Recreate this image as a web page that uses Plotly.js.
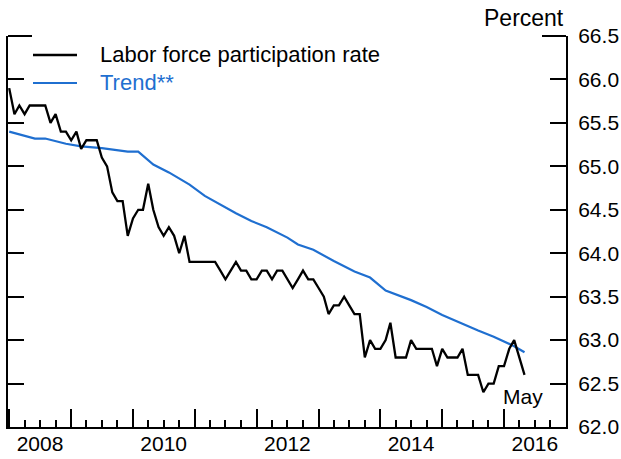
<!DOCTYPE html>
<html>
<head>
<meta charset="utf-8">
<script src="https://cdn.plot.ly/plotly-3.0.1.min.js"></script>
<style>
html,body{margin:0;padding:0;background:#fff;}
#chart{width:621px;height:459px;}
</style>
</head>
<body>
<div id="chart"></div>
<script>
const lfprDates = [
 '2008-01','2008-02','2008-03','2008-04','2008-05','2008-06','2008-07','2008-08','2008-09','2008-10','2008-11','2008-12',
 '2009-01','2009-02','2009-03','2009-04','2009-05','2009-06','2009-07','2009-08','2009-09','2009-10','2009-11','2009-12',
 '2010-01','2010-02','2010-03','2010-04','2010-05','2010-06','2010-07','2010-08','2010-09','2010-10','2010-11','2010-12',
 '2011-01','2011-02','2011-03','2011-04','2011-05','2011-06','2011-07','2011-08','2011-09','2011-10','2011-11','2011-12',
 '2012-01','2012-02','2012-03','2012-04','2012-05','2012-06','2012-07','2012-08','2012-09','2012-10','2012-11','2012-12',
 '2013-01','2013-02','2013-03','2013-04','2013-05','2013-06','2013-07','2013-08','2013-09','2013-10','2013-11','2013-12',
 '2014-01','2014-02','2014-03','2014-04','2014-05','2014-06','2014-07','2014-08','2014-09','2014-10','2014-11','2014-12',
 '2015-01','2015-02','2015-03','2015-04','2015-05','2015-06','2015-07','2015-08','2015-09','2015-10','2015-11','2015-12',
 '2016-01','2016-02','2016-03','2016-04','2016-05'
];
const lfprValues = [
 65.9,65.6,65.7,65.6,65.7,65.7,65.7,65.7,65.5,65.6,65.4,65.4,
 65.3,65.4,65.2,65.3,65.3,65.3,65.1,65.0,64.7,64.6,64.6,64.2,
 64.4,64.5,64.5,64.8,64.5,64.3,64.2,64.3,64.2,64.0,64.2,63.9,
 63.9,63.9,63.9,63.9,63.9,63.8,63.7,63.8,63.9,63.8,63.8,63.7,
 63.7,63.8,63.8,63.7,63.8,63.8,63.7,63.6,63.7,63.8,63.7,63.7,
 63.6,63.5,63.3,63.4,63.4,63.5,63.4,63.3,63.3,62.8,63.0,62.9,
 62.9,63.0,63.2,62.8,62.8,62.8,63.0,62.9,62.9,62.9,62.9,62.7,
 62.9,62.8,62.8,62.8,62.9,62.6,62.6,62.6,62.4,62.5,62.5,62.7,
 62.7,62.9,63.0,62.8,62.6
];
const trendDates = [
 '2008-01','2008-06','2008-08','2008-12','2009-03','2009-07','2009-12','2010-02','2010-05','2010-08',
 '2010-12','2011-03','2011-09','2011-12','2012-03','2012-07','2012-09','2012-12','2013-04','2013-08',
 '2013-11','2014-02','2014-07','2014-10','2015-01','2015-04','2015-08','2015-11','2016-03','2016-05'
];
const trendValues = [
 65.40,65.32,65.32,65.26,65.23,65.21,65.17,65.17,65.02,64.93,
 64.79,64.66,64.46,64.37,64.30,64.18,64.10,64.04,63.91,63.79,
 63.72,63.57,63.46,63.38,63.29,63.21,63.11,63.04,62.93,62.86
];
const yearTicks = ['2008-01-01','2009-01-01','2010-01-01','2011-01-01','2012-01-01','2013-01-01','2014-01-01','2015-01-01','2016-01-01','2017-01-01'];
const labelPositions = ['2008-07-01','2010-07-01','2012-07-01','2014-07-01','2016-07-01'];
const labelTexts = ['2008','2010','2012','2014','2016'];
const seriesNames = ['Labor force participation rate','Trend**'];
const lastLabel = 'May';
const unitLabel = 'Percent';

const BLUE = '#1f6fd0';
const FONT = 'Liberation Sans, Arial, Helvetica, sans-serif';

const traces = [
 {x: trendDates, y: trendValues, type:'scatter', mode:'lines', line:{color:BLUE, width:2.2}, showlegend:false, xaxis:'x', yaxis:'y'},
 {x: lfprDates, y: lfprValues, type:'scatter', mode:'lines', line:{color:'#000', width:2.3}, showlegend:false, xaxis:'x', yaxis:'y'},
 {x: [labelPositions[0]], y:[null], type:'scatter', mode:'lines', showlegend:false, xaxis:'x2', yaxis:'y', hoverinfo:'skip'}
];

const xr = ['2007-12-25','2017-01-01'];
const layout = {
 width:621, height:459,
 margin:{l:8, r:55, t:36, b:32, pad:0},
 paper_bgcolor:'#fff', plot_bgcolor:'#fff',
 font:{family:FONT, size:21, color:'#000'},
 showlegend:false,
 xaxis:{
  type:'date', range:xr, showgrid:false, zeroline:false,
  showline:true, linecolor:'#000', linewidth:2,
  tickmode:'array', tickvals:yearTicks, ticks:'inside', ticklen:18, tickwidth:2, tickcolor:'#000',
  showticklabels:false,
  minor:{dtick:'M3', tick0:'2008-01-01', ticks:'inside', ticklen:7, tickwidth:2, tickcolor:'#000', showgrid:false},
  mirror:false
 },
 xaxis2:{
  type:'date', range:xr, overlaying:'x', side:'bottom', showgrid:false, zeroline:false, showline:false,
  tickmode:'array', tickvals:labelPositions, ticktext:labelTexts, ticks:'', ticklabelstandoff:2,
  tickfont:{family:FONT, size:21, color:'#000'}
 },
 yaxis:{
  range:[62,66.5], side:'right', showgrid:false, zeroline:false,
  showline:true, linecolor:'#000', linewidth:2, mirror:'ticks',
  tick0:62, dtick:0.5, tickformat:'.1f', ticks:'inside', ticklen:16, tickwidth:2, tickcolor:'#000',
  tickfont:{family:FONT, size:21, color:'#000'}, ticklabelstandoff:6
 },
 shapes:[
  {type:'line', xref:'paper', yref:'paper', x0:0, x1:24/558, y0:1, y1:1, line:{color:'#000', width:2}},
  {type:'line', xref:'paper', yref:'paper', x0:1-24/558, x1:1, y0:1, y1:1, line:{color:'#000', width:2}},
  {type:'line', xref:'paper', yref:'paper', x0:(33-8)/558, x1:(77-8)/558, y0:(427-55)/391, y1:(427-55)/391, line:{color:'#000', width:2.3}},
  {type:'line', xref:'paper', yref:'paper', x0:(33-8)/558, x1:(77-8)/558, y0:(427-83)/391, y1:(427-83)/391, line:{color:BLUE, width:2.2}}
 ],
 annotations:[
  {xref:'paper', yref:'paper', x:(98-8)/558, y:(427-55)/391, xanchor:'left', yanchor:'middle', showarrow:false, text:seriesNames[0], font:{family:FONT, size:22, color:'#000'}},
  {xref:'paper', yref:'paper', x:(98-8)/558, y:(427-83)/391, xanchor:'left', yanchor:'middle', showarrow:false, text:seriesNames[1], font:{family:FONT, size:22, color:BLUE}},
  {xref:'paper', yref:'paper', x:(524-8)/558, y:(427-18)/391, xanchor:'center', yanchor:'middle', showarrow:false, text:unitLabel, font:{family:FONT, size:23, color:'#000'}},
  {xref:'x', yref:'y', x:lfprDates[lfprDates.length-1], y:lfprValues[lfprValues.length-1], xanchor:'center', yanchor:'middle', xshift:-2, yshift:-22, showarrow:false, text:lastLabel, font:{family:FONT, size:21, color:'#000'}}
 ]
};
Plotly.newPlot('chart', traces, layout, {displayModeBar:false, staticPlot:true});
</script>
</body>
</html>
